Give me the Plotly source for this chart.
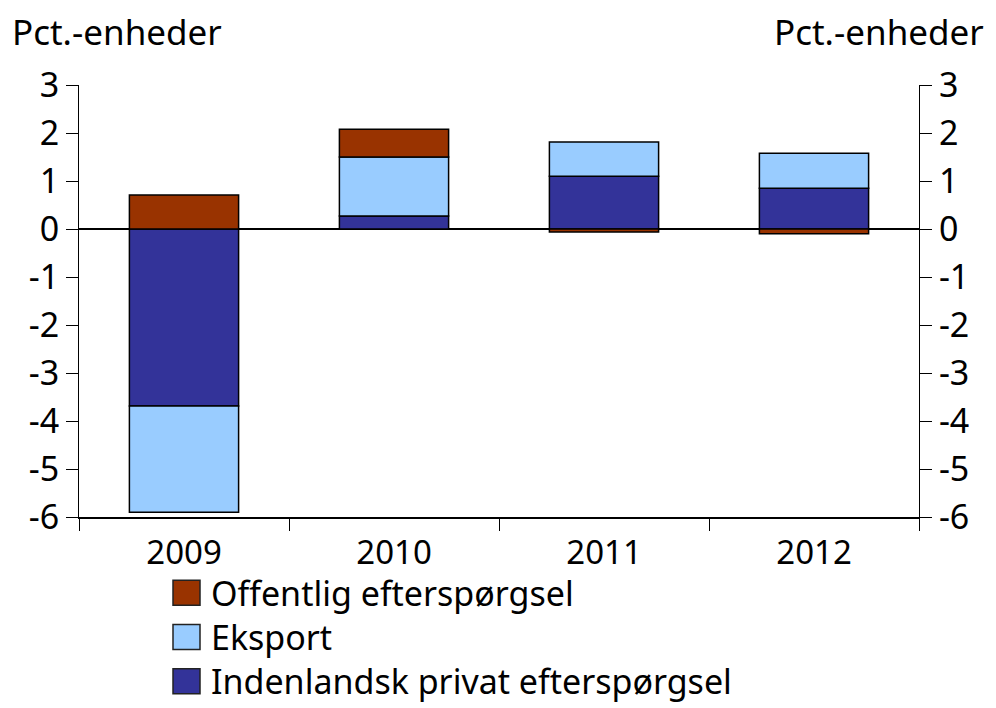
import plotly.graph_objects as go

years = ["2009", "2010", "2011", "2012"]
indenlandsk = [-3.69, 0.27, 1.10, 0.85]
eksport = [-2.21, 1.23, 0.71, 0.73]
offentlig = [0.71, 0.58, -0.06, -0.10]

y_ticks = [-6, -5, -4, -3, -2, -1, 0, 1, 2, 3]
y_ticktext = [str(v) for v in y_ticks]  # plain hyphen minus, as in the original
unit_label = "Pct.-enheder"

names = ["Indenlandsk privat efterspørgsel", "Eksport", "Offentlig efterspørgsel"]
colors = ["#333399", "#99CCFF", "#993300"]
series = [indenlandsk, eksport, offentlig]

FONT = "Noto Sans, Open Sans, Liberation Sans, sans-serif"

# page body has an 8px margin: the figure is placed at (8, 8)
OFF = 8
W, H = 996 - OFF, 708 - OFF
L, T, PW, PH = 79 - OFF, 85 - OFF, 840, 432


def px_x(px):
    return (px - 79) / PW


def px_y(py):
    return (517 - py) / PH


fig = go.Figure()
for name, vals, col in zip(names, series, colors):
    fig.add_trace(go.Bar(
        x=years, y=vals, name=name,
        marker=dict(color=col, line=dict(color="black", width=1.5)),
        showlegend=False,
    ))

# invisible trace to carry the right-hand axis
fig.add_trace(go.Scatter(x=years, y=[None] * len(years), yaxis="y2",
                         showlegend=False, hoverinfo="skip"))

axis_common = dict(
    range=[-6, 3], tickvals=y_ticks, ticktext=y_ticktext, ticks="outside", ticklen=12,
    tickwidth=1.2, tickcolor="black", showline=True, linecolor="black",
    linewidth=1.2, showgrid=False, tickfont=dict(size=34, color="black", family=FONT),
)

fig.update_layout(
    width=W, height=H,
    margin=dict(l=L, r=W - L - PW, t=T, b=H - T - PH),
    paper_bgcolor="white", plot_bgcolor="white",
    barmode="relative", bargap=0.48,
    font=dict(family=FONT, color="black"),
    xaxis=dict(
        showline=True, linecolor="black", linewidth=1.5,
        ticks="outside", ticklen=12, tickwidth=1.2, tickcolor="black",
        tickson="boundaries", showgrid=False, ticklabelstandoff=6,
        tickfont=dict(size=33, color="black", family=FONT),
    ),
    yaxis=dict(**axis_common, zeroline=True, zerolinecolor="black", zerolinewidth=2),
    yaxis2=dict(**axis_common, overlaying="y", side="right", zeroline=False),
)

# unit labels
fig.add_annotation(text=unit_label, xref="paper", yref="paper", x=px_x(10),
                   y=px_y(31), xanchor="left", yanchor="middle",
                   showarrow=False, font=dict(size=35, color="black", family=FONT))
fig.add_annotation(text=unit_label, xref="paper", yref="paper", x=px_x(986),
                   y=px_y(31), xanchor="right", yanchor="middle",
                   showarrow=False, font=dict(size=35, color="black", family=FONT))

# manual legend (reverse order), text wrapped into one block
LEG_FONT = 34
spacing = LEG_FONT * 1.3
center = 637
rows = [center - spacing, center, center + spacing]
legend_items = list(zip(names, colors))[::-1]
for (name, col), py in zip(legend_items, rows):
    fig.add_shape(type="rect", xref="paper", yref="paper",
                  x0=px_x(173), x1=px_x(200),
                  y0=px_y(py + 12.5), y1=px_y(py - 12.5),
                  fillcolor=col, line=dict(color="#222222", width=1.5))
fig.add_annotation(text="<br>".join(n for n, _ in legend_items),
                   xref="paper", yref="paper", x=px_x(209), y=px_y(center),
                   xanchor="left", yanchor="middle", align="left", showarrow=False,
                   font=dict(size=LEG_FONT, color="black", family=FONT))

fig.write_html("out.html")
